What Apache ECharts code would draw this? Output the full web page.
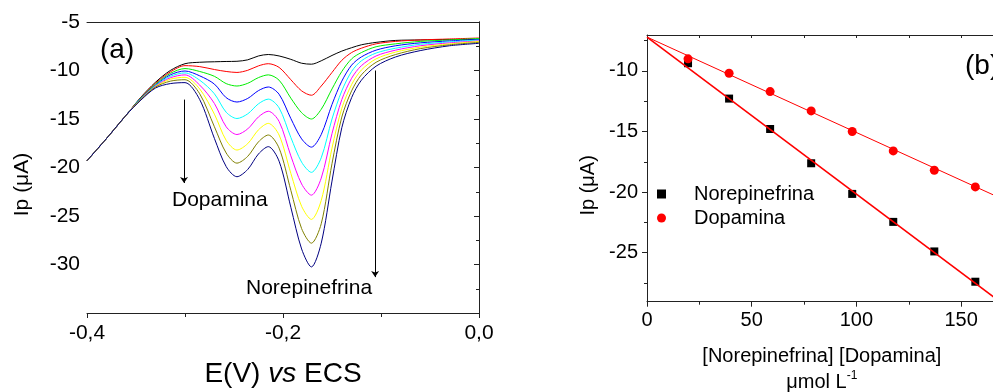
<!DOCTYPE html>
<html>
<head>
<meta charset="utf-8">
<script src="https://cdn.jsdelivr.net/npm/echarts@6/dist/echarts.min.js"></script>
<style>
html,body{margin:0;padding:0;background:#fff;}
#chart{width:993px;height:392px;}
</style>
</head>
<body>
<div id="chart"></div>
<script>
// (a) voltamogramas: potencial (V) e corrente (uA) para cada adicao
var potencial = [-0.400,-0.380,-0.360,-0.345,-0.330,-0.315,-0.300,-0.285,-0.270,-0.258,-0.247,-0.236,-0.225,-0.215,
                 -0.204,-0.192,-0.181,-0.171,-0.161,-0.150,-0.140,-0.130,-0.120,-0.105,-0.085,-0.060,-0.030,0.000];
var preto   = [-19.3,-17.0,-14.6,-12.75,-11.2,-10.0,-9.3,-9.15,-9.1,-9.07,-9.05,-8.9,-8.5,-8.35,-8.5,-8.85,-9.25,-9.35,-9.0,-8.45,-8.0,-7.65,-7.35,-7.1,-6.9,-6.85,-6.8,-6.8];
var vermelho= [-19.3,-17.0,-14.6,-12.8,-11.3,-10.15,-9.5,-9.6,-9.9,-10.1,-10.2,-9.98,-9.52,-9.3,-9.68,-10.95,-12.1,-12.55,-11.6,-10.2,-8.95,-8.15,-7.7,-7.25,-7.0,-6.85,-6.75,-6.65];
var verde   = [-19.3,-17.0,-14.6,-12.83,-11.4,-10.3,-9.8,-10.1,-10.6,-11.35,-11.6,-11.32,-10.73,-10.45,-11.0,-12.85,-14.35,-15.0,-14.0,-11.9,-10.1,-8.8,-8.15,-7.55,-7.25,-7.0,-6.85,-6.7];
var azul    = [-19.3,-17.0,-14.6,-12.87,-11.5,-10.45,-10.05,-10.55,-11.4,-12.8,-13.25,-12.88,-12.07,-11.7,-12.45,-14.95,-17.05,-17.9,-16.6,-13.5,-11.1,-9.45,-8.6,-7.9,-7.45,-7.15,-6.95,-6.8];
var ciano   = [-19.3,-17.0,-14.6,-12.9,-11.55,-10.6,-10.25,-11.0,-12.4,-14.3,-14.95,-14.47,-13.43,-12.95,-13.85,-16.9,-19.45,-20.5,-19.0,-15.0,-12.1,-10.1,-9.0,-8.2,-7.7,-7.3,-7.05,-6.85];
var magenta = [-19.3,-17.0,-14.6,-12.95,-11.6,-10.75,-10.45,-11.5,-13.4,-15.8,-16.6,-16.02,-14.78,-14.2,-15.25,-18.8,-21.7,-22.85,-21.1,-16.5,-13.0,-10.8,-9.5,-8.5,-7.9,-7.45,-7.15,-6.95];
var amarelo = [-19.3,-17.0,-14.6,-12.98,-11.65,-10.9,-10.7,-11.9,-14.5,-17.2,-18.2,-17.54,-16.11,-15.45,-16.65,-20.6,-24.0,-25.35,-23.4,-18.0,-13.9,-11.45,-9.95,-8.8,-8.1,-7.6,-7.25,-7.0];
var oliva   = [-19.3,-17.0,-14.6,-13.0,-11.7,-11.1,-10.95,-12.4,-15.8,-18.5,-19.55,-18.85,-17.35,-16.65,-18.0,-22.35,-26.3,-27.8,-25.8,-19.6,-14.8,-12.1,-10.45,-9.15,-8.35,-7.75,-7.35,-7.1];
var marinho = [-19.3,-17.0,-14.6,-13.05,-11.8,-11.35,-11.25,-13.0,-17.0,-19.9,-20.95,-20.2,-18.6,-17.85,-19.35,-24.1,-28.4,-30.25,-27.8,-21.4,-15.9,-12.8,-11.0,-9.55,-8.6,-7.95,-7.45,-7.2];

// setas (potencial, corrente inicial, corrente final)
var setaDopamina = [-0.301, -13.0, -21.6];
var setaNorepi   = [-0.106, -10.0, -31.3];

// (b) curvas analiticas
var concentracao = [19.6, 39.2, 58.8, 78.4, 98.0, 117.6, 137.2, 156.8];
var ipNorepi     = [-9.36, -12.28, -14.79, -17.62, -20.15, -22.46, -24.9, -27.4];
var ipDopamina   = [-9.0, -10.19, -11.7, -13.3, -15.0, -16.6, -18.2, -19.57];
var retaNorepi   = [[0, -7.2], [167, -28.84]];
var retaDopamina = [[0, -7.2], [167, -20.36]];

var ticksB_x = [0, 50, 100, 150];
var minorB_x = [25, 75, 125];
var topoB_x  = [25, 50, 75, 100, 125, 150];
var ticksB_y = [-25, -20, -15, -10];
var minorB_y = [-27.5, -22.5, -17.5, -12.5, -7.5];

var FONTE = '"Liberation Sans", Arial, sans-serif';
var LINHA = '#222';

function pares(xs, ys) {
	var out = [];
	for (var i = 0; i < xs.length; i++) out.push([xs[i], ys[i]]);
	return out;
}

var curvas = [
	['#000000', preto], ['#ff0000', vermelho], ['#00ee00', verde], ['#0000ff', azul], ['#00ffff', ciano],
	['#ff00ff', magenta], ['#ffff00', amarelo], ['#808000', oliva], ['#000080', marinho]
];

var series = [];
curvas.forEach(function (c, i) {
	var s = {
		type: 'line', xAxisIndex: 0, yAxisIndex: 0,
		data: pares(potencial, c[1]),
		showSymbol: false, smooth: 0.3, silent: true,
		lineStyle: { color: c[0], width: 1 },
		itemStyle: { color: c[0] }
	};
	if (i === 0) {
		s.markLine = {
			silent: true, symbol: ['none', 'arrow'], symbolSize: 6,
			lineStyle: { color: '#000', width: 1, type: 'solid' },
			label: { show: false },
			data: [
				[{ coord: [setaDopamina[0], setaDopamina[1]] }, { coord: [setaDopamina[0], setaDopamina[2]] }],
				[{ coord: [setaNorepi[0], setaNorepi[1]] }, { coord: [setaNorepi[0], setaNorepi[2]] }]
			]
		};
	}
	series.push(s);
});

series.push({ type: 'line', name: 'ajuste N', xAxisIndex: 2, yAxisIndex: 2, data: retaNorepi, showSymbol: false,
	lineStyle: { color: '#ff0000', width: 1.6 }, silent: true });
series.push({ type: 'line', name: 'ajuste D', xAxisIndex: 2, yAxisIndex: 2, data: retaDopamina, showSymbol: false,
	lineStyle: { color: '#ff0000', width: 1 }, silent: true });
series.push({ type: 'scatter', name: 'Norepinefrina', xAxisIndex: 2, yAxisIndex: 2, data: pares(concentracao, ipNorepi),
	symbol: 'rect', symbolSize: 8, itemStyle: { color: '#000', opacity: 1 } });
series.push({ type: 'scatter', name: 'Dopamina', xAxisIndex: 2, yAxisIndex: 2, data: pares(concentracao, ipDopamina),
	symbol: 'circle', symbolSize: 9, itemStyle: { color: '#ff0000', opacity: 1 } });

var semGrade = { show: false };
var linhaEixo = { show: true, lineStyle: { color: LINHA, width: 1 } };

var option = {
	animation: false,
	backgroundColor: '#fff',
	textStyle: { fontFamily: FONTE },
	grid: [
		{ left: 87, top: 22, width: 392, height: 291, outerBoundsMode: 'none', containLabel: false },
		{ left: 647, top: 35, width: 349.7, height: 266.7, outerBoundsMode: 'none', containLabel: false }
	],
	legend: {
		data: ['Norepinefrina', 'Dopamina'],
		orient: 'vertical', left: 657, top: 184, padding: 0,
		itemWidth: 9, itemHeight: 9, itemGap: 4,
		textStyle: { fontFamily: FONTE, fontSize: 20, color: '#000', lineHeight: 20, padding: [0, 0, 0, 23] }
	},
	xAxis: [
		{
			gridIndex: 0, type: 'value', position: 'bottom', min: -0.4, max: 0, interval: 0.2,
			axisLine: linhaEixo,
			axisTick: { show: true, inside: false, length: 5, lineStyle: { color: LINHA } },
			minorTick: { show: true, splitNumber: 2, length: 4, lineStyle: { color: LINHA } },
			axisLabel: { fontSize: 21, color: '#000', margin: 10, fontFamily: FONTE,
				formatter: function (v) { return v.toFixed(1).replace('.', ','); } },
			splitLine: semGrade, minorSplitLine: semGrade,
			name: 'E(V) {i|vs} ECS', nameLocation: 'middle', nameGap: 47,
			nameTextStyle: { fontSize: 28, color: '#000', fontFamily: FONTE,
				rich: { i: { fontSize: 28, fontStyle: 'italic', fontFamily: FONTE, color: '#000' } } }
		},
		{
			gridIndex: 0, type: 'value', position: 'top', min: -0.4, max: 0,
			axisLine: linhaEixo, axisTick: { show: false }, axisLabel: { show: false }, splitLine: semGrade
		},
		{
			gridIndex: 1, type: 'value', position: 'bottom', min: 0, max: 167,
			axisLine: linhaEixo,
			axisTick: { show: true, inside: false, length: 5, customValues: ticksB_x, lineStyle: { color: LINHA } },
			axisLabel: { fontSize: 20, color: '#000', margin: 9, fontFamily: FONTE, customValues: ticksB_x },
			splitLine: semGrade,
			name: '[Norepinefrina] [Dopamina]\n{u|\u03bcmol L}{s|-1}', nameLocation: 'middle', nameGap: 42,
			nameTextStyle: { fontSize: 20, lineHeight: 26, color: '#000', fontFamily: FONTE,
				rich: {
					u: { fontSize: 20, lineHeight: 26, color: '#000', fontFamily: FONTE },
					s: { fontSize: 12, lineHeight: 16, verticalAlign: 'top', color: '#000', fontFamily: FONTE }
				} }
		},
		{
			gridIndex: 1, type: 'value', position: 'top', min: 0, max: 167,
			axisLine: linhaEixo,
			axisTick: { show: true, inside: true, length: 3, customValues: topoB_x, lineStyle: { color: LINHA } },
			axisLabel: { show: false }, splitLine: semGrade
		},
		{
			gridIndex: 1, type: 'value', position: 'bottom', min: 0, max: 167,
			axisLine: { show: false },
			axisTick: { show: true, inside: false, length: 3, customValues: minorB_x, lineStyle: { color: LINHA } },
			axisLabel: { show: false }, splitLine: semGrade
		}
	],
	yAxis: [
		{
			gridIndex: 0, type: 'value', position: 'left', min: -35, max: -5, interval: 5,
			axisLine: linhaEixo,
			axisTick: { show: true, inside: false, length: 5, lineStyle: { color: LINHA } },
			minorTick: { show: true, splitNumber: 2, length: 3, lineStyle: { color: LINHA } },
			axisLabel: { fontSize: 21, color: '#000', margin: 7, fontFamily: FONTE,
				formatter: function (v) { return v === -35 ? '' : String(v); } },
			splitLine: semGrade, minorSplitLine: semGrade,
			name: 'Ip (\u03bcA)', nameLocation: 'middle', nameRotate: 90, nameGap: 54,
			nameTextStyle: { fontSize: 21, color: '#000', fontFamily: FONTE, padding: [0, 34, 0, 0] }
		},
		{
			gridIndex: 0, type: 'value', position: 'right', min: -35, max: -5, interval: 2.5,
			axisLine: linhaEixo,
			axisTick: { show: true, inside: true, length: 3, lineStyle: { color: LINHA } },
			axisLabel: { show: false }, splitLine: semGrade
		},
		{
			gridIndex: 1, type: 'value', position: 'left', min: -29.05, max: -7.03,
			axisLine: linhaEixo,
			axisTick: { show: true, inside: false, length: 5, customValues: ticksB_y, lineStyle: { color: LINHA } },
			axisLabel: { fontSize: 20, color: '#000', margin: 9, fontFamily: FONTE, customValues: ticksB_y },
			splitLine: semGrade,
			name: 'Ip (\u03bcA)', nameLocation: 'middle', nameRotate: 90, nameGap: 49,
			nameTextStyle: { fontSize: 20, color: '#000', fontFamily: FONTE, padding: [0, 34, 0, 0] }
		},
		{
			gridIndex: 1, type: 'value', position: 'left', min: -29.05, max: -7.03,
			axisLine: { show: false },
			axisTick: { show: true, inside: false, length: 3, customValues: minorB_y, lineStyle: { color: LINHA } },
			axisLabel: { show: false }, splitLine: semGrade
		}
	],
	graphic: [
		{ type: 'text', x: 100, y: 50, style: { text: '(a)', font: '28px ' + FONTE, fill: '#000', verticalAlign: 'middle' } },
		{ type: 'text', x: 172, y: 200, style: { text: 'Dopamina', font: '21px ' + FONTE, fill: '#000', verticalAlign: 'middle' } },
		{ type: 'text', x: 246, y: 288, style: { text: 'Norepinefrina', font: '21px ' + FONTE, fill: '#000', verticalAlign: 'middle' } },
		{ type: 'text', x: 965, y: 66, style: { text: '(b)', font: '28px ' + FONTE, fill: '#000', verticalAlign: 'middle' } }
	],
	series: series
};

var chart = echarts.init(document.getElementById('chart'));
chart.setOption(option);
</script>
</body>
</html>
